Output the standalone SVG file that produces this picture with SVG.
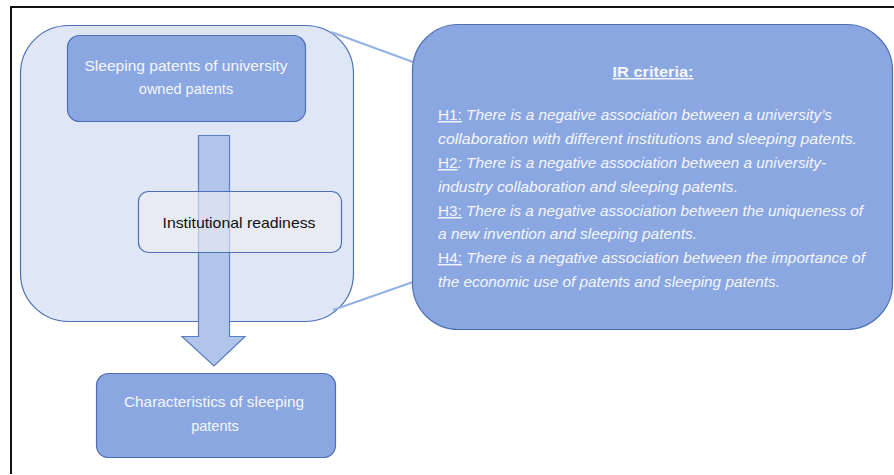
<svg xmlns="http://www.w3.org/2000/svg" width="894" height="475" viewBox="0 0 894 475">
<style>
.node{fill:#8aa7e1;stroke:#4d70b3;stroke-width:1.2}
.wt{font-family:"Liberation Sans",Arial,sans-serif;font-size:14.5px;fill:#f4f6fb;text-anchor:middle}
.ht{font-family:"Liberation Sans",Arial,sans-serif;font-size:14.5px;fill:#f4f6fb;font-style:italic}
.u{text-decoration:underline;font-style:normal}
.conn{stroke:#93b1e3;stroke-width:2;fill:none}
</style>
<rect x="0" y="0" width="894" height="475" fill="#ffffff"/>
<path d="M11,474 V7 H894" fill="none" stroke="#111" stroke-width="2"/>
<g id="context">
<rect x="20.5" y="25.5" width="333" height="296" rx="48" fill="#dfe6f5" stroke="#4d70b3" stroke-width="1.2"/>
</g>
<g id="connectors">
<line class="conn" x1="331" y1="32" x2="413" y2="62"/>
<line class="conn" x1="333" y1="310" x2="413" y2="282"/>
<path d="M198.5,135.5 H229.5 V336.5 H245 L214,366 L182,336.5 H198.5 Z" fill="#b1c5eb" stroke="#5a7ec3" stroke-width="1.2"/>
</g>
<g id="sleeping-patents">
<rect class="node" x="67.5" y="35.5" width="238" height="86" rx="12"/>
<text class="wt" x="186" y="71" textLength="203" lengthAdjust="spacingAndGlyphs">Sleeping patents of university</text>
<text class="wt" x="186" y="94">owned patents</text>
</g>
<g id="institutional-readiness">
<rect x="138.5" y="191.5" width="203" height="61" rx="10" fill="#eeeff2" fill-opacity="0.6" stroke="#4d70b3" stroke-width="1.2"/>
<text x="239" y="228" font-family="'Liberation Sans',Arial,sans-serif" font-size="14.5" fill="#111" text-anchor="middle" textLength="153" lengthAdjust="spacingAndGlyphs">Institutional readiness</text>
</g>
<g id="characteristics">
<rect class="node" x="96.5" y="373.5" width="239" height="84" rx="12"/>
<text class="wt" x="214" y="407" textLength="180" lengthAdjust="spacingAndGlyphs">Characteristics of sleeping</text>
<text class="wt" x="215" y="431">patents</text>
</g>
<g id="ir-criteria">
<rect class="node" x="412.5" y="24.5" width="480" height="305" rx="46"/>
<text x="653" y="77" font-family="'Liberation Sans',Arial,sans-serif" font-size="15" font-weight="bold" fill="#f4f6fb" text-anchor="middle" text-decoration="underline" textLength="81" lengthAdjust="spacingAndGlyphs">IR criteria:</text>
<text class="ht" x="438" y="120" textLength="394" lengthAdjust="spacingAndGlyphs"><tspan class="u">H1:</tspan> There is a negative association between a university’s</text>
<text class="ht" x="438" y="144" textLength="419" lengthAdjust="spacingAndGlyphs">collaboration with different institutions and sleeping patents.</text>
<text class="ht" x="438" y="168" textLength="388" lengthAdjust="spacingAndGlyphs"><tspan class="u">H2</tspan>: There is a negative association between a university-</text>
<text class="ht" x="438" y="192" textLength="300" lengthAdjust="spacingAndGlyphs">industry collaboration and sleeping patents.</text>
<text class="ht" x="438" y="216" textLength="425" lengthAdjust="spacingAndGlyphs"><tspan class="u">H3:</tspan> There is a negative association between the uniqueness of</text>
<text class="ht" x="438" y="239" textLength="259" lengthAdjust="spacingAndGlyphs">a new invention and sleeping patents.</text>
<text class="ht" x="438" y="263" textLength="427" lengthAdjust="spacingAndGlyphs"><tspan class="u">H4:</tspan> There is a negative association between the importance of</text>
<text class="ht" x="438" y="287" textLength="342" lengthAdjust="spacingAndGlyphs">the economic use of patents and sleeping patents.</text>
</g>
</svg>
